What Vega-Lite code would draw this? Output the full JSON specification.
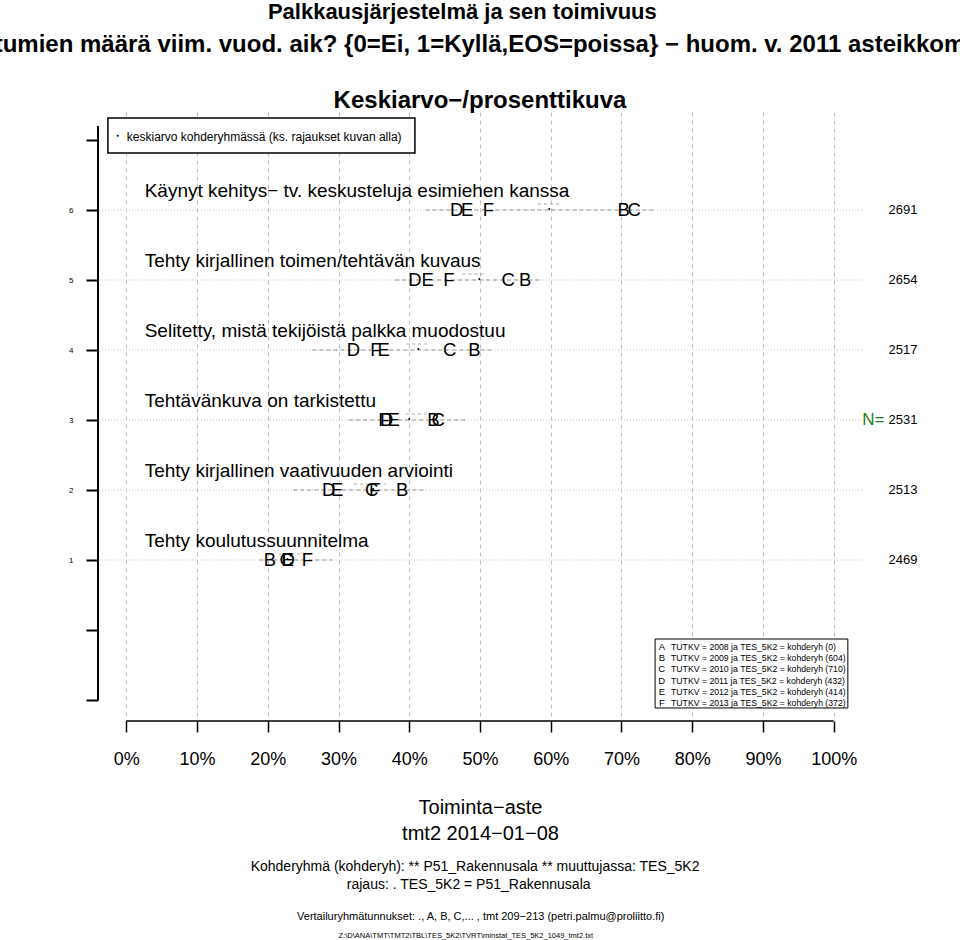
{
  "$schema": "https://vega.github.io/schema/vega-lite/v6.json",
  "width": 764,
  "height": 609,
  "autosize": {"type": "none"},
  "padding": {"left": 98, "top": 112, "right": 98, "bottom": 219},
  "background": "white",
  "config": {"font": "Liberation Sans", "view": {"stroke": null}, "text": {"font": "Liberation Sans", "color": "black"}},
  "datasets": {
    "items": [
      {"item": 6, "label": "Käynyt kehitys− tv. keskusteluja esimiehen kanssa", "n": 2691, "lo": 42.3, "hi": 74.5, "mean": 59.8, "ciLo": 58.2, "ciHi": 61.5},
      {"item": 5, "label": "Tehty kirjallinen toimen/tehtävän kuvaus", "n": 2654, "lo": 38.0, "hi": 58.5, "mean": 49.9, "ciLo": 47.5, "ciHi": 50.8},
      {"item": 4, "label": "Selitetty, mistä tekijöistä palkka muodostuu", "n": 2517, "lo": 26.3, "hi": 52.0, "mean": 41.3, "ciLo": 39.6, "ciHi": 42.5},
      {"item": 3, "label": "Tehtävänkuva on tarkistettu", "n": 2531, "lo": 31.5, "hi": 48.2, "mean": 40.0, "ciLo": 39.5, "ciHi": 42.7},
      {"item": 2, "label": "Tehty kirjallinen vaativuuden arviointi", "n": 2513, "lo": 23.6, "hi": 42.4, "mean": 34.9, "ciLo": 32.2, "ciHi": 36.7},
      {"item": 1, "label": "Tehty koulutussuunnitelma", "n": 2469, "lo": 18.8, "hi": 29.1, "mean": 22.8, "ciLo": 21.6, "ciHi": 26.0}
    ],
    "letters": [
      {"item": 6, "group": "D", "pct": 46.7}, {"item": 6, "group": "E", "pct": 48.2}, {"item": 6, "group": "F", "pct": 51.2}, {"item": 6, "group": "B", "pct": 70.3}, {"item": 6, "group": "C", "pct": 71.8},
      {"item": 5, "group": "D", "pct": 40.8}, {"item": 5, "group": "E", "pct": 42.6}, {"item": 5, "group": "F", "pct": 45.6}, {"item": 5, "group": "C", "pct": 54.0}, {"item": 5, "group": "B", "pct": 56.4},
      {"item": 4, "group": "D", "pct": 32.1}, {"item": 4, "group": "F", "pct": 35.3}, {"item": 4, "group": "E", "pct": 36.4}, {"item": 4, "group": "C", "pct": 45.7}, {"item": 4, "group": "B", "pct": 49.2},
      {"item": 3, "group": "F", "pct": 36.4}, {"item": 3, "group": "D", "pct": 36.8}, {"item": 3, "group": "E", "pct": 37.8}, {"item": 3, "group": "B", "pct": 43.4}, {"item": 3, "group": "C", "pct": 44.1},
      {"item": 2, "group": "D", "pct": 28.6}, {"item": 2, "group": "E", "pct": 29.8}, {"item": 2, "group": "C", "pct": 34.7}, {"item": 2, "group": "F", "pct": 35.1}, {"item": 2, "group": "B", "pct": 39.0},
      {"item": 1, "group": "B", "pct": 20.3}, {"item": 1, "group": "C", "pct": 22.6}, {"item": 1, "group": "D", "pct": 22.9}, {"item": 1, "group": "E", "pct": 22.8}, {"item": 1, "group": "F", "pct": 25.6}
    ],
    "groups": [
      {"group": "A", "year": 2008, "n": 0, "desc": "TUTKV = 2008 ja TES_5K2 = kohderyh (0)"},
      {"group": "B", "year": 2009, "n": 604, "desc": "TUTKV = 2009 ja TES_5K2 = kohderyh (604)"},
      {"group": "C", "year": 2010, "n": 710, "desc": "TUTKV = 2010 ja TES_5K2 = kohderyh (710)"},
      {"group": "D", "year": 2011, "n": 432, "desc": "TUTKV = 2011 ja TES_5K2 = kohderyh (432)"},
      {"group": "E", "year": 2012, "n": 414, "desc": "TUTKV = 2012 ja TES_5K2 = kohderyh (414)"},
      {"group": "F", "year": 2013, "n": 372, "desc": "TUTKV = 2013 ja TES_5K2 = kohderyh (372)"}
    ],
    "one": [{}]
  },
  "layer": [
    {
      "layer": [
        {
          "data": {"name": "items"},
          "mark": {"type": "rule", "color": "#C8C8C8", "strokeDash": [1, 2], "strokeWidth": 1},
          "encoding": {
            "y": {"field": "item", "type": "quantitative", "scale": {"domain": [-1.3, 7.4], "nice": false, "zero": false},
                  "axis": {"values": [-1, 0, 1, 2, 3, 4, 5, 6, 7], "labelExpr": "datum.value >= 1 && datum.value <= 6 ? datum.value : ''", "domain": false, "grid": false, "tickSize": 12, "tickWidth": 2, "tickColor": "black", "labelFontSize": 8, "labelColor": "black", "labelPadding": 13, "title": null}}
          }
        },
        {
          "data": {"name": "items"},
          "mark": {"type": "rule", "color": "#959595", "strokeDash": [4, 3], "strokeWidth": 1},
          "encoding": {
            "x": {"field": "lo", "type": "quantitative", "scale": {"domain": [-4, 104], "nice": false, "zero": false},
                  "axis": {"values": [0, 10, 20, 30, 40, 50, 60, 70, 80, 90, 100], "labelExpr": "datum.value + '%'", "domain": false, "grid": true, "gridDash": [4, 4], "gridColor": "#BDBDBD", "gridWidth": 1, "tickColor": "black", "tickSize": 11, "tickWidth": 1.5, "labelFontSize": 18, "labelColor": "black", "labelPadding": 18, "labelFlush": false, "labelOverlap": false,
                           "title": ["Toiminta−aste", "tmt2 2014−01−08"], "titleFontSize": 20, "titleFontWeight": "normal", "titleColor": "black", "titleLineHeight": 26, "titlePadding": 29}},
            "x2": {"field": "hi"},
            "y": {"field": "item", "type": "quantitative", "scale": {"domain": [-1.3, 7.4], "nice": false, "zero": false}}
          }
        },
        {
          "data": {"name": "items"},
          "mark": {"type": "rule", "color": "#A8A8A8", "strokeDash": [3, 3], "strokeWidth": 1, "yOffset": -6},
          "encoding": {
            "x": {"field": "ciLo", "type": "quantitative", "scale": {"domain": [-4, 104], "nice": false, "zero": false}},
            "x2": {"field": "ciHi"},
            "y": {"field": "item", "type": "quantitative", "scale": {"domain": [-1.3, 7.4], "nice": false, "zero": false}}
          }
        },
        {
          "data": {"name": "items"},
          "mark": {"type": "point", "filled": true, "color": "black", "size": 4, "opacity": 1, "yOffset": -1},
          "encoding": {
            "x": {"field": "mean", "type": "quantitative", "scale": {"domain": [-4, 104], "nice": false, "zero": false}},
            "y": {"field": "item", "type": "quantitative", "scale": {"domain": [-1.3, 7.4], "nice": false, "zero": false}}
          }
        },
        {
          "data": {"name": "items"},
          "mark": {"type": "text", "align": "left", "baseline": "middle", "fontSize": 19, "dy": -19},
          "encoding": {
            "x": {"datum": 2.6, "type": "quantitative", "scale": {"domain": [-4, 104], "nice": false, "zero": false}},
            "y": {"field": "item", "type": "quantitative", "scale": {"domain": [-1.3, 7.4], "nice": false, "zero": false}},
            "text": {"field": "label"}
          }
        },
        {
          "data": {"name": "letters"},
          "mark": {"type": "text", "align": "center", "baseline": "middle", "fontSize": 18.5},
          "encoding": {
            "x": {"field": "pct", "type": "quantitative", "scale": {"domain": [-4, 104], "nice": false, "zero": false}},
            "y": {"field": "item", "type": "quantitative", "scale": {"domain": [-1.3, 7.4], "nice": false, "zero": false}},
            "text": {"field": "group"}
          }
        },
        {
          "data": {"name": "items"},
          "mark": {"type": "text", "align": "center", "baseline": "middle", "fontSize": 13},
          "encoding": {
            "x": {"datum": 109.8, "type": "quantitative", "scale": {"domain": [-4, 104], "nice": false, "zero": false}},
            "y": {"field": "item", "type": "quantitative", "scale": {"domain": [-1.3, 7.4], "nice": false, "zero": false}},
            "text": {"field": "n"}
          }
        },
        {
          "data": {"name": "one"},
          "mark": {"type": "text", "align": "center", "baseline": "middle", "fontSize": 17, "color": "#1E7B1E", "text": "N="},
          "encoding": {
            "x": {"datum": 105.6, "type": "quantitative", "scale": {"domain": [-4, 104], "nice": false, "zero": false}},
            "y": {"datum": 3, "type": "quantitative", "scale": {"domain": [-1.3, 7.4], "nice": false, "zero": false}}
          }
        },
        {
          "data": {"name": "one"},
          "mark": {"type": "rect", "fill": "white", "stroke": "black", "strokeWidth": 1.5},
          "encoding": {
            "x": {"datum": -2.6, "type": "quantitative", "scale": {"domain": [-4, 104], "nice": false, "zero": false}},
            "x2": {"datum": 40.8},
            "y": {"datum": 7.314, "type": "quantitative", "scale": {"domain": [-1.3, 7.4], "nice": false, "zero": false}},
            "y2": {"datum": 6.814}
          }
        },
        {
          "data": {"name": "one"},
          "mark": {"type": "text", "align": "left", "baseline": "middle", "fontSize": 12, "text": "keskiarvo kohderyhmässä (ks. rajaukset kuvan alla)"},
          "encoding": {
            "x": {"datum": 0.07, "type": "quantitative", "scale": {"domain": [-4, 104], "nice": false, "zero": false}},
            "y": {"datum": 7.043, "type": "quantitative", "scale": {"domain": [-1.3, 7.4], "nice": false, "zero": false}}
          }
        },
        {
          "data": {"name": "one"},
          "mark": {"type": "point", "filled": true, "color": "black", "size": 4, "opacity": 1},
          "encoding": {
            "x": {"datum": -1.2, "type": "quantitative", "scale": {"domain": [-4, 104], "nice": false, "zero": false}},
            "y": {"datum": 7.06, "type": "quantitative", "scale": {"domain": [-1.3, 7.4], "nice": false, "zero": false}}
          }
        },
        {
          "data": {"name": "one"},
          "mark": {"type": "rect", "fill": "white", "stroke": "black", "strokeWidth": 1},
          "encoding": {
            "x": {"datum": 74.75, "type": "quantitative", "scale": {"domain": [-4, 104], "nice": false, "zero": false}},
            "x2": {"datum": 102.0},
            "y": {"datum": -0.129, "type": "quantitative", "scale": {"domain": [-1.3, 7.4], "nice": false, "zero": false}},
            "y2": {"datum": -1.114}
          }
        },
        {
          "data": {"name": "one"},
          "mark": {"type": "rule", "color": "black", "strokeWidth": 2},
          "encoding": {
            "x": {"datum": -4, "type": "quantitative", "scale": {"domain": [-4, 104], "nice": false, "zero": false}},
            "y": {"datum": -1, "type": "quantitative", "scale": {"domain": [-1.3, 7.4], "nice": false, "zero": false}},
            "y2": {"datum": 7.2}
          }
        },
        {
          "data": {"name": "one"},
          "mark": {"type": "rule", "color": "black", "strokeWidth": 1.5},
          "encoding": {
            "x": {"datum": 0, "type": "quantitative", "scale": {"domain": [-4, 104], "nice": false, "zero": false}},
            "x2": {"datum": 100},
            "y": {"datum": -1.3, "type": "quantitative", "scale": {"domain": [-1.3, 7.4], "nice": false, "zero": false}}
          }
        },
        {
          "data": {"name": "one"},
          "mark": {"type": "text", "align": "center", "baseline": "middle", "fontSize": 22, "fontWeight": "bold", "text": "Palkkausjärjestelmä ja sen toimivuus"},
          "encoding": {
            "x": {"datum": 47.5, "type": "quantitative", "scale": {"domain": [-4, 104], "nice": false, "zero": false}},
            "y": {"datum": 8.829, "type": "quantitative", "scale": {"domain": [-1.3, 7.4], "nice": false, "zero": false}}
          }
        },
        {
          "data": {"name": "one"},
          "mark": {"type": "text", "align": "center", "baseline": "middle", "fontSize": 24, "fontWeight": "bold", "text": "tumien määrä viim. vuod. aik? {0=Ei, 1=Kyllä,EOS=poissa} − huom. v. 2011 asteikkom"},
          "encoding": {
            "x": {"datum": 50, "type": "quantitative", "scale": {"domain": [-4, 104], "nice": false, "zero": false}},
            "y": {"datum": 8.357, "type": "quantitative", "scale": {"domain": [-1.3, 7.4], "nice": false, "zero": false}}
          }
        },
        {
          "data": {"name": "one"},
          "mark": {"type": "text", "align": "center", "baseline": "middle", "fontSize": 24, "fontWeight": "bold", "text": "Keskiarvo−/prosenttikuva"},
          "encoding": {
            "x": {"datum": 50, "type": "quantitative", "scale": {"domain": [-4, 104], "nice": false, "zero": false}},
            "y": {"datum": 7.557, "type": "quantitative", "scale": {"domain": [-1.3, 7.4], "nice": false, "zero": false}}
          }
        },
        {
          "data": {"name": "one"},
          "mark": {"type": "text", "align": "center", "baseline": "middle", "fontSize": 14, "text": "Kohderyhmä (kohderyh): ** P51_Rakennusala ** muuttujassa:  TES_5K2"},
          "encoding": {
            "x": {"datum": 49.3, "type": "quantitative", "scale": {"domain": [-4, 104], "nice": false, "zero": false}},
            "y": {"datum": -3.386, "type": "quantitative", "scale": {"domain": [-1.3, 7.4], "nice": false, "zero": false}}
          }
        },
        {
          "data": {"name": "one"},
          "mark": {"type": "text", "align": "center", "baseline": "middle", "fontSize": 14, "text": "rajaus:  . TES_5K2 = P51_Rakennusala"},
          "encoding": {
            "x": {"datum": 48.4, "type": "quantitative", "scale": {"domain": [-4, 104], "nice": false, "zero": false}},
            "y": {"datum": -3.643, "type": "quantitative", "scale": {"domain": [-1.3, 7.4], "nice": false, "zero": false}}
          }
        },
        {
          "data": {"name": "one"},
          "mark": {"type": "text", "align": "center", "baseline": "middle", "fontSize": 11, "text": "Vertailuryhmätunnukset: ., A, B, C,...   , tmt 209−213 (petri.palmu@proliitto.fi)"},
          "encoding": {
            "x": {"datum": 50.1, "type": "quantitative", "scale": {"domain": [-4, 104], "nice": false, "zero": false}},
            "y": {"datum": -4.1, "type": "quantitative", "scale": {"domain": [-1.3, 7.4], "nice": false, "zero": false}}
          }
        },
        {
          "data": {"name": "one"},
          "mark": {"type": "text", "align": "center", "baseline": "middle", "fontSize": 7.5, "text": "Z:\\D\\ANA\\TMT\\TMT2\\TBL\\TES_5K2\\TVRT\\minstat_TES_5K2_1049_tmt2.txt"},
          "encoding": {
            "x": {"datum": 48.0, "type": "quantitative", "scale": {"domain": [-4, 104], "nice": false, "zero": false}},
            "y": {"datum": -4.371, "type": "quantitative", "scale": {"domain": [-1.3, 7.4], "nice": false, "zero": false}}
          }
        }
      ]
    },
    {
      "data": {"name": "groups"},
      "encoding": {
        "y": {"field": "year", "type": "quantitative", "scale": {"domain": [1960.232, 2014.607], "reverse": true, "nice": false, "zero": false}, "axis": null}
      },
      "layer": [
        {
          "mark": {"type": "text", "align": "center", "baseline": "middle", "fontSize": 9.5},
          "encoding": {
            "x": {"datum": 75.7, "type": "quantitative", "scale": {"domain": [-4, 104], "nice": false, "zero": false}},
            "text": {"field": "group"}
          }
        },
        {
          "mark": {"type": "text", "align": "left", "baseline": "middle", "fontSize": 8.7},
          "encoding": {
            "x": {"datum": 77.0, "type": "quantitative", "scale": {"domain": [-4, 104], "nice": false, "zero": false}},
            "text": {"field": "desc"}
          }
        }
      ]
    }
  ],
  "resolve": {"scale": {"y": "independent"}}
}
